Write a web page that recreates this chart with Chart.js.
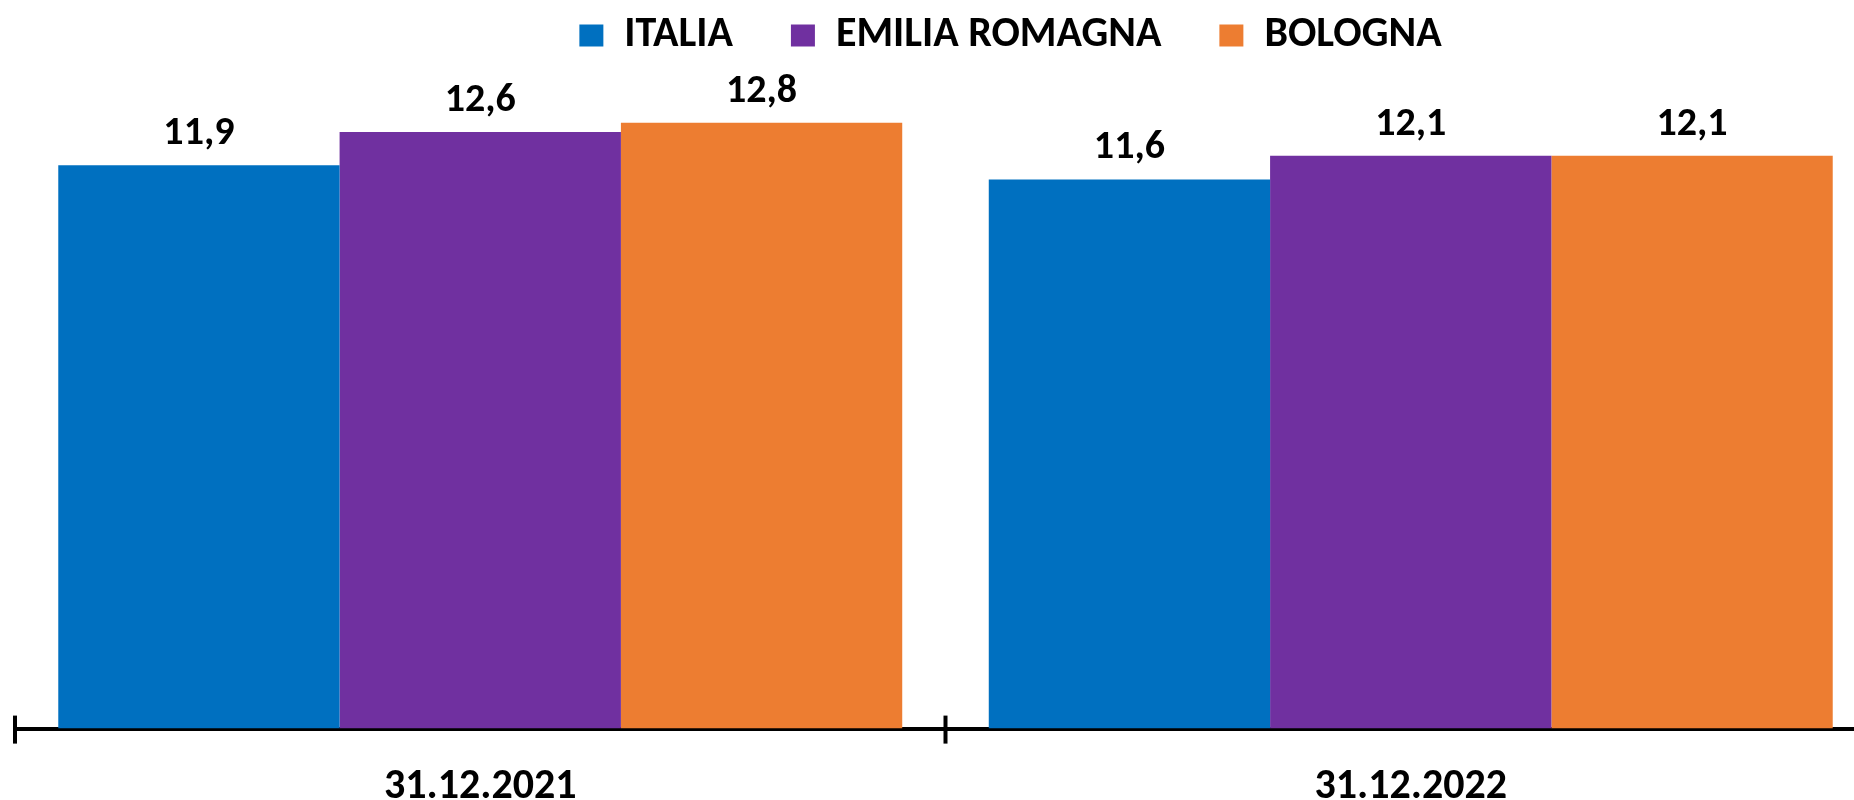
<!DOCTYPE html>
<html>
<head>
<meta charset="utf-8">
<script src="https://cdn.jsdelivr.net/npm/chart.js@4.4.1/dist/chart.umd.min.js"></script>
<style>
  html, body { margin: 0; padding: 0; background: #fff; overflow: hidden; }
  #wrap { width: 2022px; height: 800px; position: relative; }
</style>
</head>
<body>
<div id="wrap"><canvas id="chart"></canvas></div>
<script>
// ---- Data
const dates = ['31.12.2021', '31.12.2022'];
const seriesNames = ['ITALIA', 'EMILIA ROMAGNA', 'BOLOGNA'];
const italia = [11.9, 11.6];
const emiliaRomagna = [12.6, 12.1];
const bologna = [12.8, 12.1];
const colors = ['#0070C0', '#7030A0', '#ED7D31'];

const FONT = "Carlito, Calibri, Lato, sans-serif";
const fmt = v => v.toFixed(1).replace('.', ',');

// value labels above bars
const valueLabels = {
  id: 'valueLabels',
  afterDatasetsDraw(chart) {
    const ctx = chart.ctx;
    ctx.save();
    ctx.font = 'bold 40px ' + FONT;
    ctx.fillStyle = '#000';
    ctx.textAlign = 'center';
    ctx.textBaseline = 'middle';
    chart.data.datasets.forEach((ds, di) => {
      chart.getDatasetMeta(di).data.forEach((bar, i) => {
        ctx.fillText(fmt(ds.data[i]), bar.x, bar.y - 31);
      });
    });
    ctx.restore();
  }
};

// tick marks crossing the axis at category boundaries
const axisTicks = {
  id: 'axisTicks',
  afterDraw(chart) {
    const x = chart.scales.x;
    const n = x.ticks.length;
    const step = x.width / n;
    const ctx = chart.ctx;
    ctx.save();
    ctx.strokeStyle = '#000';
    ctx.lineWidth = 4;
    for (let i = 0; i <= n; i++) {
      const px = x.left + i * step;
      ctx.beginPath();
      ctx.moveTo(px, x.top - 13);
      ctx.lineTo(px, x.top + 15);
      ctx.stroke();
    }
    ctx.restore();
  }
};

// legend sits a bit right of the plot centre in the original
const legendShift = {
  id: 'legendShift',
  afterLayout(chart) {
    chart.legend.left += 65;
    chart.legend.right += 65;
  }
};

new Chart(document.getElementById('chart'), {
  type: 'bar',
  data: {
    labels: dates,
    datasets: [
      { label: seriesNames[0], data: italia, backgroundColor: colors[0] },
      { label: seriesNames[1], data: emiliaRomagna, backgroundColor: colors[1] },
      { label: seriesNames[2], data: bologna, backgroundColor: colors[2] }
    ]
  },
  options: {
    responsive: true,
    maintainAspectRatio: false,
    animation: false,
    layout: { padding: { top: -43.5, left: 15, right: 146, bottom: -39 } },
    datasets: { bar: { categoryPercentage: 0.907, barPercentage: 1.0, borderWidth: 0 } },
    scales: {
      x: {
        grid: { display: false },
        border: { display: true, color: '#000', width: 4 },
        ticks: { color: '#000', font: { family: FONT, size: 42, weight: 'bold' }, padding: 26 }
      },
      y: { display: false, min: 0, max: 14.25 }
    },
    plugins: {
      legend: {
        position: 'top',
        maxHeight: 97.5,
        labels: {
          color: '#000',
          boxWidth: 24,
          boxHeight: 22,
          padding: 58,
          font: { family: FONT, size: 42, weight: 'bold' }
        }
      },
      tooltip: { enabled: false }
    }
  },
  plugins: [valueLabels, axisTicks, legendShift]
});
</script>
</body>
</html>
